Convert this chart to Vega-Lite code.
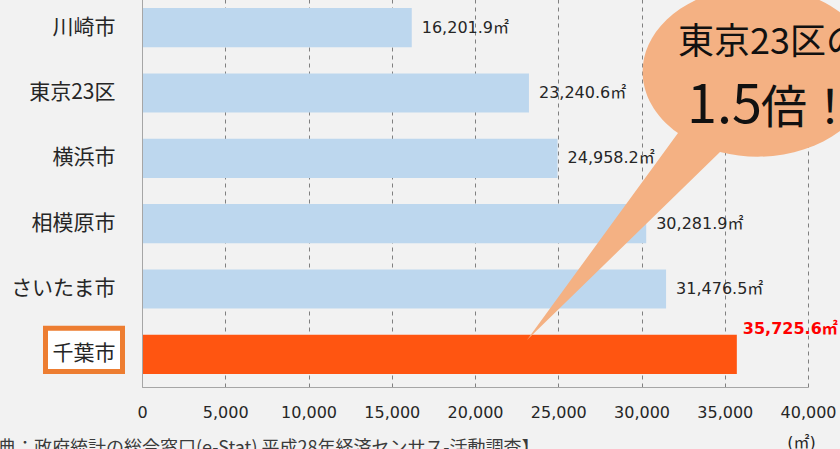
{
  "$schema": "https://vega.github.io/schema/vega-lite/v6.json",
  "width": 666,
  "height": 392,
  "autosize": {"type": "none"},
  "padding": {"left": 142, "top": -5, "right": 32, "bottom": 62},
  "background": "#f2f2f2",
  "config": {"view": {"stroke": null}, "font": "Noto Sans CJK JP"},
  "datasets": {
    "cities": [
      {"city": "川崎市", "v": 16201.9, "label": "16,201.9㎡", "group": "other"},
      {"city": "東京23区", "v": 23240.6, "label": "23,240.6㎡", "group": "other"},
      {"city": "横浜市", "v": 24958.2, "label": "24,958.2㎡", "group": "other"},
      {"city": "相模原市", "v": 30281.9, "label": "30,281.9㎡", "group": "other"},
      {"city": "さいたま市", "v": 31476.5, "label": "31,476.5㎡", "group": "other"},
      {"city": "千葉市", "v": 35725.6, "label": "35,725.6㎡", "group": "chiba"}
    ],
    "box": [{"city": "千葉市", "v": -5796, "v2": -1171}],
    "bubble": [{"v": 36817, "y": 4.852}],
    "line1": [{"v": 32192, "y": 5.265, "t": "東京23区の"}],
    "num": [{"v": 32733, "y": 4.041, "t": "1.5"}],
    "bai": [{"v": 37177, "y": 4.041, "t": "倍！"}],
    "source": [{"v": -10811, "y": -0.811, "t": "【出典：政府統計の総合窓口(e-Stat) 平成28年経済センサス-活動調査】"}]
  },
  "resolve": {"scale": {"y": "independent"}},
  "layer": [
    {
      "layer": [
        {
          "data": {"name": "cities"},
          "mark": {"type": "bar"},
          "encoding": {
            "y": {
              "field": "city", "type": "nominal",
              "sort": ["川崎市", "東京23区", "横浜市", "相模原市", "さいたま市", "千葉市"],
              "scale": {"paddingInner": 0.4, "paddingOuter": 0.2},
              "title": null,
              "axis": {
                "labelFont": "Noto Sans CJK JP", "labelFontSize": 21, "labelColor": "#262626",
                "labelPadding": 27, "ticks": false, "domainColor": "#a6a6a6", "domainWidth": 1,
                "grid": false, "zindex": 1
              }
            },
            "x": {
              "field": "v", "type": "quantitative",
              "scale": {"domain": [0, 40000], "nice": false},
              "title": "(㎡)",
              "axis": {
                "values": [0, 5000, 10000, 15000, 20000, 25000, 30000, 35000, 40000],
                "format": ",d", "labelFont": "DejaVu Sans", "labelFontSize": 16, "labelColor": "#262626",
                "labelPadding": 17, "ticks": false, "domainColor": "#a6a6a6", "labelFlush": false,
                "grid": true, "gridDash": [4, 4], "gridColor": "#808080",
                "titleX": 659, "titleY": 55, "titleAlign": "center", "titleBaseline": "middle",
                "titleFont": "DejaVu Sans, Noto Sans CJK JP", "titleFontSize": 16, "titleFontWeight": "normal", "titleColor": "#262626"
              }
            },
            "color": {
              "field": "group", "type": "nominal",
              "scale": {"domain": ["other", "chiba"], "range": ["#bdd7ee", "#ff5511"]},
              "legend": null
            }
          }
        },
        {
          "data": {"name": "cities"},
          "transform": [{"filter": "datum.group == 'other'"}],
          "mark": {"type": "text", "align": "left", "baseline": "middle", "dx": 10, "font": "DejaVu Sans, Noto Sans CJK JP", "fontSize": 16, "color": "#262626"},
          "encoding": {
            "y": {"field": "city", "type": "nominal", "sort": ["川崎市", "東京23区", "横浜市", "相模原市", "さいたま市", "千葉市"]},
            "x": {"field": "v", "type": "quantitative", "scale": {"domain": [0, 40000], "nice": false}, "title": "(㎡)"},
            "text": {"field": "label"}
          }
        },
        {
          "data": {"name": "cities"},
          "transform": [{"filter": "datum.group == 'chiba'"}],
          "mark": {"type": "text", "align": "left", "baseline": "middle", "dx": 6, "dy": -25, "font": "DejaVu Sans, Noto Sans CJK JP", "fontSize": 16, "fontWeight": "bold", "color": "#ff0000"},
          "encoding": {
            "y": {"field": "city", "type": "nominal", "sort": ["川崎市", "東京23区", "横浜市", "相模原市", "さいたま市", "千葉市"]},
            "x": {"field": "v", "type": "quantitative", "scale": {"domain": [0, 40000], "nice": false}, "title": "(㎡)"},
            "text": {"field": "label"}
          }
        },
        {
          "data": {"name": "box"},
          "mark": {"type": "bar", "fill": "#ffffff", "stroke": "#ed7d31", "strokeWidth": 5, "height": {"band": 1.1}, "yOffset": -4.5, "clip": false},
          "encoding": {
            "y": {"field": "city", "type": "nominal", "sort": ["川崎市", "東京23区", "横浜市", "相模原市", "さいたま市", "千葉市"]},
            "x": {"field": "v", "type": "quantitative", "scale": {"domain": [0, 40000], "nice": false}, "title": "(㎡)"},
            "x2": {"field": "v2"}
          }
        }
      ]
    },
    {
      "data": {"name": "bubble"},
      "mark": {
        "type": "point",
        "shape": "M-0.77,0.63L-2.28,2.7L-0.35,0.82A1.15,0.85,0,1,0,-0.77,0.63Z",
        "size": 40000, "filled": true, "color": "#f4b183", "opacity": 1, "strokeWidth": 0
      },
      "encoding": {
        "x": {"field": "v", "type": "quantitative", "scale": {"domain": [0, 40000], "nice": false}, "title": "(㎡)"},
        "y": {"field": "y", "type": "quantitative", "scale": {"domain": [0, 6], "nice": false, "zero": false}, "axis": null}
      }
    },
    {
      "data": {"name": "line1"},
      "mark": {"type": "text", "align": "left", "baseline": "middle", "font": "Noto Sans CJK JP", "fontSize": 36, "color": "#111111"},
      "encoding": {
        "x": {"field": "v", "type": "quantitative", "scale": {"domain": [0, 40000], "nice": false}, "title": "(㎡)"},
        "y": {"field": "y", "type": "quantitative", "scale": {"domain": [0, 6], "nice": false, "zero": false}, "axis": null},
        "text": {"field": "t"}
      }
    },
    {
      "data": {"name": "num"},
      "mark": {"type": "text", "align": "left", "baseline": "alphabetic", "font": "Noto Sans CJK JP", "fontSize": 54, "color": "#111111"},
      "encoding": {
        "x": {"field": "v", "type": "quantitative", "scale": {"domain": [0, 40000], "nice": false}, "title": "(㎡)"},
        "y": {"field": "y", "type": "quantitative", "scale": {"domain": [0, 6], "nice": false, "zero": false}, "axis": null},
        "text": {"field": "t"}
      }
    },
    {
      "data": {"name": "bai"},
      "mark": {"type": "text", "align": "left", "baseline": "alphabetic", "font": "Noto Sans CJK JP", "fontSize": 46, "color": "#111111"},
      "encoding": {
        "x": {"field": "v", "type": "quantitative", "scale": {"domain": [0, 40000], "nice": false}, "title": "(㎡)"},
        "y": {"field": "y", "type": "quantitative", "scale": {"domain": [0, 6], "nice": false, "zero": false}, "axis": null},
        "text": {"field": "t"}
      }
    },
    {
      "data": {"name": "source"},
      "mark": {"type": "text", "align": "left", "baseline": "top", "font": "Noto Sans CJK JP", "fontSize": 18, "color": "#3b3b3b", "clip": false},
      "encoding": {
        "x": {"field": "v", "type": "quantitative", "scale": {"domain": [0, 40000], "nice": false}, "title": "(㎡)"},
        "y": {"field": "y", "type": "quantitative", "scale": {"domain": [0, 6], "nice": false, "zero": false}, "axis": null},
        "text": {"field": "t"}
      }
    }
  ]
}
